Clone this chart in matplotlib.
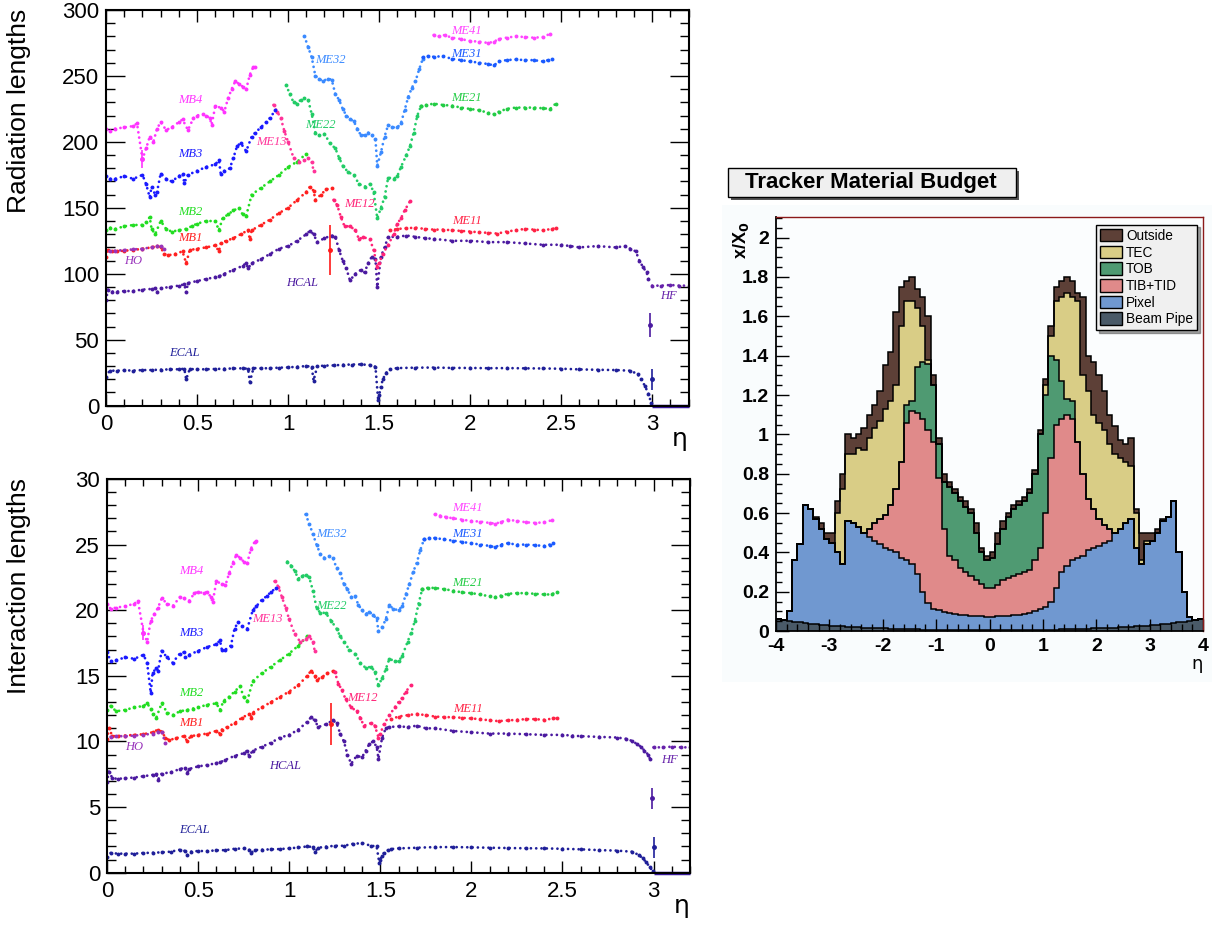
import matplotlib
matplotlib.use('Agg')
import matplotlib.pyplot as plt
import numpy as np
from matplotlib.patches import Patch, Rectangle
from matplotlib.ticker import MultipleLocator, FormatStrFormatter

# ---------------- muon / calorimeter material (left panels) ----------------
ecal_x = [0.0, 0.02, 0.06, 0.1, 0.15, 0.2, 0.25, 0.3, 0.35, 0.4, 0.43, 0.44, 0.46, 0.5, 0.55, 0.6, 0.65, 0.7,
          0.75, 0.78, 0.79, 0.81, 0.85, 0.9, 0.95, 1.0, 1.05, 1.1, 1.13, 1.14, 1.16, 1.2, 1.25, 1.3, 1.35, 1.4,
          1.45, 1.48, 1.495, 1.5, 1.51, 1.52, 1.54, 1.56, 1.6, 1.7, 1.8, 1.9, 2.0, 2.1, 2.2, 2.3, 2.4, 2.5, 2.6,
          2.7, 2.8, 2.88, 2.92, 2.94, 2.96, 2.98, 2.995]
ecal_rad = [22, 26.5, 26.5, 26.8, 26.6, 27, 27, 27.3, 27.5, 27.6, 28, 20, 27.8, 27.5, 27.6, 27.8, 28, 28.2,
            28.3, 28, 18, 28.5, 28.3, 28.4, 28.8, 29, 29.5, 30, 29.5, 19, 29.8, 30.4, 30.5, 31, 31.2, 31.3,
            30.8, 29.5, 4, 8, 14, 20, 25, 27.5, 28.5, 28.8, 28.9, 28.6, 28.6, 28.4, 28.5, 28.3, 28.2, 28, 27.5,
            27.2, 27, 26.5, 24, 20, 15, 9, 2]
ecal_int = [1.2, 1.5, 1.45, 1.45, 1.45, 1.5, 1.52, 1.55, 1.6, 1.75, 1.65, 1.35, 1.6, 1.65, 1.65, 1.7, 1.72, 1.82,
            1.85, 1.75, 1.5, 1.72, 1.75, 1.78, 1.8, 1.85, 1.92, 2.0, 1.95, 1.6, 1.9, 1.98, 2.05, 2.05, 2.2, 2.25,
            2.05, 2.0, 0.7, 1.0, 1.3, 1.5, 1.7, 1.8, 1.85, 1.9, 1.95, 1.95, 1.93, 1.9, 1.88, 1.86, 1.85, 1.82, 1.78,
            1.72, 1.68, 1.6, 1.35, 1.1, 0.8, 0.4, 0.15]

fwd_x = [3.0, 3.05, 3.1, 3.15, 3.2]
fwd_zero = [0, 0, 0, 0, 0]
hf_rad = [91, 91, 91.5, 91, 91]
hf_int = [9.55, 9.55, 9.6, 9.55, 9.55]

hcal_x = [0.0, 0.01, 0.03, 0.06, 0.1, 0.15, 0.2, 0.25, 0.27, 0.28, 0.3, 0.35, 0.4, 0.43, 0.44, 0.45, 0.5, 0.55,
          0.6, 0.62, 0.65, 0.7, 0.75, 0.77, 0.78, 0.8, 0.85, 0.9, 0.95, 1.0, 1.05, 1.1, 1.12, 1.14, 1.16, 1.2,
          1.24, 1.26, 1.28, 1.3, 1.32, 1.34, 1.37, 1.4, 1.42, 1.44, 1.46, 1.48, 1.49, 1.51, 1.53, 1.55, 1.6,
          1.65, 1.7, 1.75, 1.8, 1.9, 2.0, 2.1, 2.2, 2.3, 2.4, 2.5, 2.55, 2.6, 2.7, 2.8, 2.85, 2.88, 2.91, 2.93,
          2.95, 2.97, 2.98]
hcal_rad = [80, 88, 86.5, 86.5, 86.8, 87, 88, 88.5, 89, 86, 89, 90, 91, 92, 86, 93, 94.5, 96,
            97.5, 98, 100, 103, 106, 108, 104, 108, 111, 115, 119, 121, 125, 130, 132.5, 130, 124, 127,
            129, 128, 118, 110, 104, 95, 100, 103, 101, 108, 113, 111, 90, 113, 120, 128, 128,
            129, 128, 127, 126.5, 125, 125, 124, 124, 123, 122, 122, 121, 120, 121, 120, 121, 119, 117, 110,
            105, 101, 96]
hcal_int = [6.9, 7.7, 7.2, 7.15, 7.2, 7.25, 7.35, 7.45, 7.5, 7.1, 7.55, 7.65, 7.9, 8.0, 7.6, 7.9, 8.1, 8.2,
            8.35, 8.4, 8.6, 8.9, 9.1, 9.3, 8.9, 9.3, 9.6, 9.9, 10.3, 10.5, 10.9, 11.5, 11.85, 11.6, 11.1, 11.3,
            11.6, 11.4, 10.6, 10.0, 9.0, 8.3, 8.9, 8.8, 9.3, 9.8, 10.0, 9.6, 8.7, 10.3, 11.0, 11.1, 11.15,
            11.1, 11.2, 11.0, 11.0, 10.8, 10.7, 10.6, 10.6, 10.55, 10.5, 10.5, 10.45, 10.4, 10.35, 10.3, 10.2,
            10.05, 9.8, 9.6, 9.3, 9.0, 8.7]

ho_x = [0.02, 0.05, 0.1, 0.15, 0.2, 0.25, 0.28, 0.3, 0.32]
ho_rad = [117, 117.5, 118, 118.5, 119, 120, 121, 121, 119]
ho_int = [10.35, 10.4, 10.4, 10.45, 10.5, 10.6, 10.75, 10.75, 9.85]

mb1_x = [0.0, 0.01, 0.03, 0.06, 0.1, 0.15, 0.2, 0.25, 0.28, 0.3, 0.32, 0.34, 0.38, 0.42, 0.44, 0.46, 0.5, 0.55,
         0.6, 0.62, 0.63, 0.66, 0.7, 0.74, 0.78, 0.79, 0.8, 0.85, 0.9, 0.95, 1.0, 1.05, 1.1, 1.12, 1.14, 1.15,
         1.18, 1.21, 1.24]
mb1_rad = [113, 118, 117, 117, 117.5, 118, 119, 120, 121, 120, 115, 114, 115, 117, 108, 118, 119, 120,
           121.5, 117, 123, 125, 127, 130, 133, 126, 133, 137, 141, 146, 150, 156, 162, 166, 163, 156,
           160, 164, 165]
mb1_int = [10.2, 11.0, 10.4, 10.4, 10.45, 10.5, 10.55, 10.7, 10.9, 10.75, 10.3, 10.1, 10.25, 10.4, 10.05, 10.4,
           10.5, 10.6, 10.8, 10.6, 10.9, 11.1, 11.4, 11.8, 12.1, 11.8, 12.2, 12.6, 13.0, 13.4, 13.8, 14.3, 15.0,
           15.4, 15.0, 14.7, 14.9, 15.2, 15.35]

me12_x = [1.25, 1.27, 1.29, 1.31, 1.34, 1.37, 1.39, 1.41, 1.45, 1.47, 1.49, 1.5, 1.52, 1.55, 1.58, 1.6, 1.62,
          1.64, 1.67]
me12_rad = [156, 152, 143, 136, 136, 133, 126, 128, 126, 118, 105, 108, 115, 122, 130, 138, 142, 148, 155]
me12_int = [15.3, 14.4, 13.9, 13.2, 12.6, 12.3, 11.8, 11.2, 11.4, 11.2, 10.3, 10.6, 11.3, 12.0, 12.6, 13.0,
            13.3, 13.8, 14.3]

me11_x = [1.56, 1.6, 1.65, 1.7, 1.75, 1.8, 1.85, 1.9, 1.95, 2.0, 2.05, 2.1, 2.15, 2.2, 2.25, 2.3, 2.35, 2.4,
          2.45, 2.47]
me11_rad = [133, 134, 134.5, 135, 134, 133.5, 133.5, 133, 132.5, 132, 131.5, 131, 130.5, 132, 133, 134, 133.5,
            133, 134, 134.5]
me11_int = [11.7, 11.9, 12.0, 12.1, 12.0, 11.9, 11.85, 11.85, 11.8, 11.75, 11.7, 11.6, 11.55, 11.6, 11.65,
            11.7, 11.7, 11.65, 11.75, 11.8]

mb2_x = [0.0, 0.02, 0.05, 0.1, 0.15, 0.2, 0.22, 0.24, 0.25, 0.27, 0.3, 0.33, 0.36, 0.4, 0.44, 0.47, 0.5, 0.55,
         0.6, 0.62, 0.64, 0.67, 0.7, 0.73, 0.75, 0.77, 0.8, 0.85, 0.9, 0.95, 1.0, 1.05, 1.1]
mb2_rad = [133, 135, 134, 136, 137, 137, 139, 143, 134, 130, 140, 134, 132, 133, 134, 136, 138, 140,
           140, 133, 142, 145, 148, 150, 145, 144, 160, 165, 170, 175, 181, 185, 191]
mb2_int = [12.4, 12.7, 12.3, 12.4, 12.6, 12.7, 12.9, 12.5, 12.1, 11.8, 12.9, 12.2, 12.0, 12.3, 12.4, 12.5,
           12.6, 12.8, 12.9, 12.4, 13.1, 13.4, 13.8, 14.2, 13.4, 13.1, 14.6, 15.2, 15.7, 16.2, 16.7, 17.3, 18.0]

me13_x = [0.92, 0.94, 0.96, 0.98, 1.0, 1.03, 1.06, 1.09, 1.11, 1.13, 1.14]
me13_rad = [228, 223, 218, 208, 200, 188, 185, 186, 188, 185, 178]
me13_int = [22.2, 21.8, 21.0, 20.2, 19.3, 18.2, 17.6, 17.8, 18.0, 17.6, 16.9]

mb3_x = [0.0, 0.02, 0.05, 0.1, 0.15, 0.2, 0.22, 0.24, 0.25, 0.27, 0.28, 0.3, 0.33, 0.36, 0.4, 0.42, 0.43, 0.45,
         0.5, 0.55, 0.6, 0.62, 0.63, 0.65, 0.68, 0.7, 0.72, 0.74, 0.77, 0.8, 0.82, 0.85, 0.88, 0.9, 0.93]
mb3_rad = [174, 172, 172, 174, 172, 175, 168, 158, 166, 160, 162, 176, 172, 170, 174, 176, 169, 175,
           178, 181, 183, 186, 176, 178, 180, 188, 197, 199, 193, 204, 207, 211, 215, 218, 224]
mb3_int = [16.8, 16.1, 16.2, 16.4, 16.3, 16.6, 16.0, 13.7, 15.2, 15.6, 15.4, 16.9, 16.4, 16.0, 16.7, 16.8, 16.4,
           16.6, 16.9, 17.2, 17.4, 17.7, 17.0, 17.0, 17.3, 18.6, 19.1, 18.8, 18.6, 20.0, 20.3, 20.8, 21.1, 21.4,
           21.7]

mb4_x = [0.0, 0.02, 0.05, 0.1, 0.15, 0.17, 0.2, 0.22, 0.24, 0.26, 0.28, 0.3, 0.33, 0.36, 0.4, 0.42, 0.45, 0.48,
         0.5, 0.53, 0.55, 0.57, 0.58, 0.6, 0.63, 0.65, 0.67, 0.69, 0.71, 0.73, 0.75, 0.77, 0.79, 0.81, 0.82]
mb4_rad = [210, 208, 210, 211, 212, 214, 187, 195, 204, 200, 210, 215, 209, 211, 215, 217, 209, 218,
           220, 221, 220, 218, 213, 227, 226, 223, 233, 240, 246, 244, 242, 240, 251, 257, 257]
mb4_int = [20.5, 20.1, 20.2, 20.3, 20.5, 20.7, 18.3, 17.6, 19.2, 19.7, 20.2, 20.9, 20.5, 20.3, 21.0, 20.9,
           20.7, 21.3, 21.4, 21.3, 21.4, 21.0, 20.6, 22.2, 22.0, 21.9, 22.8, 23.6, 24.2, 24.0, 23.7, 23.6, 24.7,
           25.2, 25.3]

me22_x = [0.99, 1.01, 1.03, 1.05, 1.07, 1.09, 1.11, 1.13, 1.15, 1.17, 1.2, 1.23, 1.26, 1.28, 1.3, 1.33, 1.36,
          1.39, 1.42, 1.45, 1.47, 1.49, 1.51, 1.53, 1.55, 1.58, 1.6, 1.62, 1.65, 1.67, 1.69, 1.71, 1.73]
me22_rad = [243, 236, 230, 229, 232, 233, 232, 221, 207, 205, 206, 199, 195, 188, 182, 177, 175,
            168, 166, 168, 162, 142, 150, 158, 173, 172, 174, 181, 190, 197, 207, 220, 227]
me22_int = [23.7, 23.4, 23.0, 22.4, 22.6, 22.7, 22.5, 21.5, 20.2, 19.8, 19.8, 19.2, 18.6, 18.0, 17.6, 17.0,
            16.7, 16.0, 15.6, 15.7, 15.3, 14.3, 14.8, 15.5, 16.3, 16.1, 16.1, 16.5, 17.6, 18.3, 19.2, 20.5, 21.6]

me21_x = [1.73, 1.76, 1.8, 1.85, 1.9, 1.95, 2.0, 2.05, 2.1, 2.13, 2.16, 2.2, 2.25, 2.3, 2.35, 2.4, 2.44, 2.47]
me21_rad = [227, 228, 229, 228, 227.5, 226, 225, 224, 222, 221, 223, 225, 226, 226, 226, 225.5, 225, 229]
me21_int = [21.6, 21.7, 21.7, 21.6, 21.5, 21.35, 21.3, 21.2, 21.05, 21.0, 21.1, 21.25, 21.3, 21.3, 21.25,
            21.2, 21.2, 21.4]

me32_x = [1.09, 1.11, 1.13, 1.15, 1.17, 1.19, 1.22, 1.24, 1.26, 1.28, 1.3, 1.32, 1.34, 1.36, 1.38, 1.4, 1.42,
          1.44, 1.46, 1.48, 1.49, 1.51, 1.53, 1.55, 1.57, 1.6, 1.62, 1.64, 1.66, 1.68, 1.7, 1.72, 1.74]
me32_rad = [280, 272, 264, 250, 248, 246, 248, 247, 236, 232, 225, 220, 217, 216, 210, 205, 205,
            207, 205, 202, 182, 192, 204, 213, 211, 211, 214, 224, 234, 241, 246, 255, 263]
me32_int = [27.3, 26.6, 25.8, 25.0, 24.3, 24.0, 24.1, 24.0, 23.2, 22.8, 22.0, 21.6, 21.0, 21.1, 20.4, 20.0,
            19.7, 19.9, 19.6, 19.4, 18.4, 18.7, 19.3, 20.4, 20.1, 20.0, 20.3, 21.2, 22.0, 22.9, 23.6, 24.6, 25.4]

me31_x = [1.74, 1.77, 1.8, 1.85, 1.9, 1.95, 2.0, 2.05, 2.1, 2.13, 2.16, 2.2, 2.25, 2.3, 2.35, 2.4, 2.43, 2.45]
me31_rad = [264, 265, 264.5, 265, 263, 262, 261, 260, 259, 258, 261, 262, 262.5, 262, 262, 261, 262, 263]
me31_int = [25.4, 25.5, 25.5, 25.4, 25.3, 25.2, 25.1, 25.0, 24.9, 24.8, 25.0, 25.1, 25.0, 25.0, 24.95, 24.9,
            25.0, 25.1]

me41_x = [1.8, 1.83, 1.86, 1.9, 1.95, 2.0, 2.05, 2.1, 2.13, 2.16, 2.2, 2.25, 2.3, 2.35, 2.4, 2.44]
me41_rad = [281, 280, 281, 279, 278, 276.5, 276, 275, 276, 278, 279, 280, 279.5, 279, 279.5, 282]
me41_int = [27.3, 27.2, 27.1, 27.0, 26.9, 26.8, 26.75, 26.65, 26.6, 26.7, 26.9, 26.8, 26.7, 26.65, 26.7, 26.85]

# isolated points with error bars: eta, value, error, colour
err_rad = [(0.2, 187, 7, '#ff33ff'), (1.23, 118, 19, '#ff1a1a'), (2.99, 61, 9, '#4b1aa0'), (3.0, 20, 8, '#1f1f99')]
err_int = [(0.2, 18.3, 0.6, '#ff33ff'), (1.23, 11.3, 1.6, '#ff1a1a'), (2.99, 5.66, 0.8, '#4b1aa0'),
           (3.0, 1.93, 0.82, '#1f1f99')]

# label positions (eta, value) for both panels
label_names = ['MB4', 'MB3', 'MB2', 'MB1', 'HO', 'HCAL', 'ECAL', 'ME13', 'ME22', 'ME32', 'ME12',
               'ME41', 'ME31', 'ME21', 'ME11', 'HF']
label_rad_pos = [(0.46, 232), (0.46, 191), (0.46, 147), (0.46, 127), (0.15, 110), (1.08, 93), (0.43, 40),
                 (0.91, 200), (1.18, 213), (1.23, 262), (1.39, 153), (1.98, 284), (1.98, 267), (1.98, 233),
                 (1.98, 140), (3.09, 83)]
label_int_pos = [(0.46, 23.0), (0.46, 18.3), (0.46, 13.7), (0.46, 11.4), (0.15, 9.55), (0.98, 8.1),
                 (0.48, 3.25), (0.88, 19.3), (1.23, 20.3), (1.23, 25.8), (1.4, 13.3), (1.98, 27.8),
                 (1.98, 25.8), (1.98, 22.1), (1.98, 12.5), (3.09, 8.6)]
label_colors = ['#ff33ff', '#1a1aff', '#22dd22', '#ff2020', '#9933bb', '#4b1aa0', '#1f1f99', '#ff3399',
                '#22cc66', '#3a8aff', '#ff2277', '#ff44ff', '#1a5aff', '#22cc44', '#ff2244', '#6622aa']

# ---------------- tracker material budget (right panel), stacked tops per 0.1 bin in eta ----------------
top_beampipe = [0.062, 0.057, 0.052, 0.048, 0.044, 0.041, 0.038, 0.035, 0.032, 0.030,
                0.028, 0.026, 0.024, 0.022, 0.020, 0.019, 0.017, 0.016, 0.015, 0.014,
                0.013, 0.012, 0.011, 0.010, 0.009, 0.009, 0.008, 0.007, 0.007, 0.006,
                0.006, 0.005, 0.005, 0.005, 0.004, 0.004, 0.004, 0.004, 0.004, 0.004,
                0.004, 0.004, 0.004, 0.004, 0.004, 0.004, 0.005, 0.005, 0.005, 0.006,
                0.006, 0.007, 0.007, 0.008, 0.009, 0.009, 0.010, 0.011, 0.012, 0.013,
                0.014, 0.015, 0.016, 0.017, 0.019, 0.020, 0.022, 0.024, 0.026, 0.028,
                0.030, 0.032, 0.035, 0.038, 0.041, 0.044, 0.048, 0.052, 0.057, 0.062]
top_pixel = [0.062, 0.057, 0.10, 0.36, 0.44, 0.64, 0.62, 0.57, 0.52, 0.47,
             0.45, 0.40, 0.34, 0.56, 0.55, 0.53, 0.50, 0.48, 0.46, 0.44,
             0.42, 0.41, 0.40, 0.37, 0.36, 0.34, 0.29, 0.20, 0.14, 0.11,
             0.105, 0.095, 0.09, 0.085, 0.082, 0.08, 0.078, 0.076, 0.075, 0.073,
             0.073, 0.075, 0.076, 0.078, 0.08, 0.083, 0.087, 0.092, 0.10, 0.11,
             0.12, 0.15, 0.22, 0.30, 0.33, 0.36, 0.37, 0.38, 0.41, 0.42,
             0.43, 0.45, 0.46, 0.50, 0.52, 0.55, 0.57, 0.42, 0.34, 0.44,
             0.46, 0.50, 0.56, 0.58, 0.66, 0.40, 0.20, 0.07, 0.057, 0.062]
top_tib = [0.062, 0.057, 0.10, 0.36, 0.44, 0.64, 0.62, 0.57, 0.52, 0.47,
           0.45, 0.40, 0.34, 0.56, 0.55, 0.53, 0.50, 0.52, 0.55, 0.57,
           0.59, 0.64, 0.72, 0.86, 1.06, 1.12, 1.11, 1.08, 1.02, 0.96,
           0.78, 0.52, 0.38, 0.36, 0.32, 0.30, 0.28, 0.26, 0.24, 0.22,
           0.22, 0.235, 0.26, 0.27, 0.28, 0.29, 0.30, 0.31, 0.36, 0.42,
           0.60, 0.88, 1.05, 1.08, 1.10, 1.08, 0.96, 0.80, 0.67, 0.62,
           0.57, 0.54, 0.52, 0.50, 0.52, 0.55, 0.57, 0.42, 0.34, 0.44,
           0.46, 0.50, 0.56, 0.58, 0.66, 0.40, 0.20, 0.07, 0.057, 0.062]
top_tob = [0.062, 0.057, 0.10, 0.36, 0.44, 0.64, 0.62, 0.57, 0.52, 0.47,
           0.45, 0.40, 0.34, 0.56, 0.55, 0.53, 0.50, 0.52, 0.55, 0.57,
           0.59, 0.64, 0.72, 0.86, 1.15, 1.17, 1.34, 1.37, 1.36, 1.25,
           0.95, 0.76, 0.73, 0.70, 0.66, 0.63, 0.60, 0.50, 0.40, 0.36,
           0.37, 0.44, 0.52, 0.58, 0.62, 0.64, 0.66, 0.70, 0.80, 1.00,
           1.20, 1.40, 1.38, 1.27, 1.18, 1.17, 0.96, 0.80, 0.67, 0.62,
           0.57, 0.54, 0.52, 0.50, 0.52, 0.55, 0.57, 0.42, 0.34, 0.44,
           0.46, 0.50, 0.56, 0.58, 0.66, 0.40, 0.20, 0.07, 0.057, 0.062]
top_tec = [0.062, 0.057, 0.10, 0.36, 0.44, 0.64, 0.62, 0.57, 0.52, 0.47,
           0.45, 0.60, 0.72, 0.90, 0.90, 0.93, 0.92, 0.98, 1.03, 1.07,
           1.13, 1.17, 1.25, 1.55, 1.68, 1.68, 1.64, 1.55, 1.38, 1.25,
           0.95, 0.76, 0.73, 0.70, 0.66, 0.63, 0.60, 0.50, 0.40, 0.36,
           0.37, 0.44, 0.52, 0.58, 0.62, 0.64, 0.66, 0.70, 0.80, 1.00,
           1.25, 1.50, 1.68, 1.70, 1.72, 1.70, 1.68, 1.30, 1.22, 1.10,
           1.06, 1.02, 0.95, 0.90, 0.88, 0.86, 0.84, 0.60, 0.36, 0.46,
           0.46, 0.50, 0.56, 0.58, 0.66, 0.40, 0.20, 0.07, 0.057, 0.062]
top_outside = [0.062, 0.057, 0.10, 0.36, 0.44, 0.64, 0.62, 0.58, 0.55, 0.50,
               0.50, 0.66, 0.80, 1.00, 0.98, 1.00, 1.03, 1.10, 1.15, 1.22,
               1.35, 1.42, 1.62, 1.75, 1.78, 1.80, 1.74, 1.70, 1.60, 1.30,
               0.98, 0.80, 0.76, 0.72, 0.68, 0.66, 0.62, 0.55, 0.42, 0.38,
               0.40, 0.50, 0.56, 0.60, 0.64, 0.66, 0.68, 0.72, 0.82, 1.02,
               1.28, 1.55, 1.75, 1.78, 1.80, 1.78, 1.72, 1.70, 1.40, 1.37,
               1.30, 1.22, 1.10, 1.04, 0.97, 0.95, 0.98, 0.62, 0.50, 0.50,
               0.50, 0.52, 0.57, 0.58, 0.66, 0.40, 0.20, 0.07, 0.057, 0.062]
layer_names = ['Outside', 'TEC', 'TOB', 'TIB+TID', 'Pixel', 'Beam Pipe']
layer_colors = ['#5d4037', '#d9cd86', '#4f9a72', '#e08a8a', '#7098d0', '#4a5a68']


def dotted_series(ax, x, y, color):
    ax.plot(x, y, color=color, lw=2.0, ls=(0, (0.01, 1.9)), dash_capstyle='round')
    ax.plot(x, y, color=color, ls='none', marker='o', ms=2.8, mew=0)


def left_panel(ax, which):
    rad = which == 'rad'
    series = [
        (ecal_x, ecal_rad if rad else ecal_int, '#1f1f99'),
        (fwd_x, hf_rad if rad else hf_int, '#6622aa'),
        (hcal_x, hcal_rad if rad else hcal_int, '#4b1aa0'),
        (mb1_x, mb1_rad if rad else mb1_int, '#ff2020'),
        (ho_x, ho_rad if rad else ho_int, '#9933bb'),
        (me12_x, me12_rad if rad else me12_int, '#ff2277'),
        (me11_x, me11_rad if rad else me11_int, '#ff2244'),
        (mb2_x, mb2_rad if rad else mb2_int, '#22dd22'),
        (me13_x, me13_rad if rad else me13_int, '#ff3399'),
        (mb3_x, mb3_rad if rad else mb3_int, '#1a1aff'),
        (mb4_x, mb4_rad if rad else mb4_int, '#ff33ff'),
        (me22_x, me22_rad if rad else me22_int, '#22cc66'),
        (me21_x, me21_rad if rad else me21_int, '#22cc44'),
        (me32_x, me32_rad if rad else me32_int, '#3a8aff'),
        (me31_x, me31_rad if rad else me31_int, '#1a5aff'),
        (me41_x, me41_rad if rad else me41_int, '#ff44ff'),
    ]
    for x, y, c in series:
        dotted_series(ax, x, y, c)
    ax.plot(fwd_x, fwd_zero, color='#3a1aa0', lw=2.5, solid_capstyle='butt', clip_on=False)
    for x, y, e, c in (err_rad if rad else err_int):
        ax.errorbar([x], [y], yerr=[e], fmt='o', ms=2.5, color=c, elinewidth=1.2, capsize=0)
    for name, pos, c in zip(label_names, label_rad_pos if rad else label_int_pos, label_colors):
        ax.text(pos[0], pos[1], name, color=c, fontsize=9, family='Liberation Serif',
                style='italic', ha='center', va='center')

    ax.set_xlim(0, 3.2)
    ax.set_ylim(0, 300 if rad else 30)
    ax.xaxis.set_major_locator(MultipleLocator(0.5))
    ax.xaxis.set_minor_locator(MultipleLocator(0.1))
    ax.yaxis.set_major_locator(MultipleLocator(50 if rad else 5))
    ax.yaxis.set_minor_locator(MultipleLocator(10 if rad else 1))
    ax.xaxis.set_major_formatter(FormatStrFormatter('%g'))
    ax.yaxis.set_major_formatter(FormatStrFormatter('%g'))
    ax.tick_params(which='both', direction='in', top=True, right=True, labelsize=16, width=1)
    ax.tick_params(axis='y', which='major', length=13.5, pad=5)
    ax.tick_params(axis='y', which='minor', length=6.5)
    ax.tick_params(axis='x', which='major', length=8.5, pad=6)
    ax.tick_params(axis='x', which='minor', length=5)
    for s in ax.spines.values():
        s.set_linewidth(1.5)
    for lab in ax.get_xticklabels() + ax.get_yticklabels():
        lab.set_family('Liberation Sans')
    ax.text(0.985, -0.085, 'η', transform=ax.transAxes, fontsize=18, ha='center', va='center',
            family='DejaVu Sans')


fig = plt.figure(figsize=(12.12, 9.27), dpi=100)

# faint pad background behind the tracker plot
fig.patches.append(Rectangle((722 / 1212, 1 - 682 / 927), 490 / 1212, 477 / 927, transform=fig.transFigure,
                             facecolor='#f9fcfd', edgecolor='none', zorder=0))

ax1 = fig.add_axes([0.0875, 0.5624, 0.4806, 0.4268])
left_panel(ax1, 'rad')
fig.text(19 / 1212, 1 - 9 / 927, 'Radiation lengths', rotation=90, ha='center', va='top', fontsize=19,
         family='Liberation Sans')

ax2 = fig.add_axes([0.0883, 0.0586, 0.481, 0.4247])
left_panel(ax2, 'int')
fig.text(19 / 1212, 1 - 478 / 927, 'Interaction lengths', rotation=90, ha='center', va='top', fontsize=19,
         family='Liberation Sans')

# ---------------- right panel ----------------
ax3 = fig.add_axes([0.6403, 0.3193, 0.3523, 0.4466])
ax3.set_facecolor('#fbfdfe')
edges = np.linspace(-4, 4, len(top_outside) + 1)
tops = [top_outside, top_tec, top_tob, top_tib, top_pixel, top_beampipe]
for top, c in zip(tops, layer_colors):
    ax3.stairs(top, edges, baseline=0, fill=True, color=c)
for top in tops:
    ax3.stairs(top, edges, baseline=None, color='black', lw=1.1)
ax3.set_xlim(-4, 4)
ax3.set_ylim(0, 2.105)
ax3.xaxis.set_major_locator(MultipleLocator(1))
ax3.xaxis.set_minor_locator(MultipleLocator(0.2))
ax3.yaxis.set_major_locator(MultipleLocator(0.2))
ax3.yaxis.set_minor_locator(MultipleLocator(0.05))
ax3.xaxis.set_major_formatter(FormatStrFormatter('%g'))
ax3.yaxis.set_major_formatter(FormatStrFormatter('%g'))
ax3.tick_params(which='both', direction='in', labelsize=14, width=1)
ax3.tick_params(which='major', length=9, pad=5)
ax3.tick_params(axis='y', which='minor', length=4.5)
ax3.tick_params(axis='x', which='minor', length=5)
for lab in ax3.get_xticklabels() + ax3.get_yticklabels():
    lab.set_family('Liberation Sans')
    lab.set_weight('bold')
ax3.spines['left'].set_linewidth(1.3)
ax3.spines['bottom'].set_linewidth(1.3)
ax3.spines['top'].set_color('#8b1a1a')
ax3.spines['right'].set_color('#8b1a1a')
ax3.spines['top'].set_linewidth(1.0)
ax3.spines['right'].set_linewidth(1.0)
ax3.set_zorder(2)

handles = [Patch(facecolor=c, edgecolor='black', lw=1) for c in layer_colors]
leg = ax3.legend(handles, layer_names, loc='upper right', bbox_to_anchor=(0.993, 0.988),
                 frameon=True, fancybox=False, shadow=True, edgecolor='black', facecolor='#f0f0f0',
                 framealpha=1, handlelength=1.6, handleheight=1.05, labelspacing=0.2, borderpad=0.3,
                 handletextpad=0.3, borderaxespad=0.2, prop={'family': 'Liberation Sans', 'size': 9.8})
leg.get_frame().set_linewidth(1.0)

ax3.text(-0.083, 0.99, r'x/X$_\mathbf{0}$', transform=ax3.transAxes, rotation=90, ha='center', va='top',
         fontsize=13, weight='bold', family='Liberation Sans')
ax3.text(0.985, -0.08, 'η', transform=ax3.transAxes, fontsize=13, ha='center', va='center',
         family='DejaVu Sans')

# title box
fig.patches.append(Rectangle((731 / 1212, 1 - 200 / 927), 288 / 1212, 29 / 927, transform=fig.transFigure,
                             facecolor='#555555', edgecolor='none', zorder=3))
fig.patches.append(Rectangle((728 / 1212, 1 - 197 / 927), 288 / 1212, 29 / 927, transform=fig.transFigure,
                             facecolor='#efefef', edgecolor='black', lw=1.0, zorder=4))
fig.text(871 / 1212, 1 - 182.5 / 927, 'Tracker Material Budget', ha='center', va='center', fontsize=16,
         weight='bold', family='Liberation Sans', zorder=5)

fig.savefig('out.png', dpi=100)
